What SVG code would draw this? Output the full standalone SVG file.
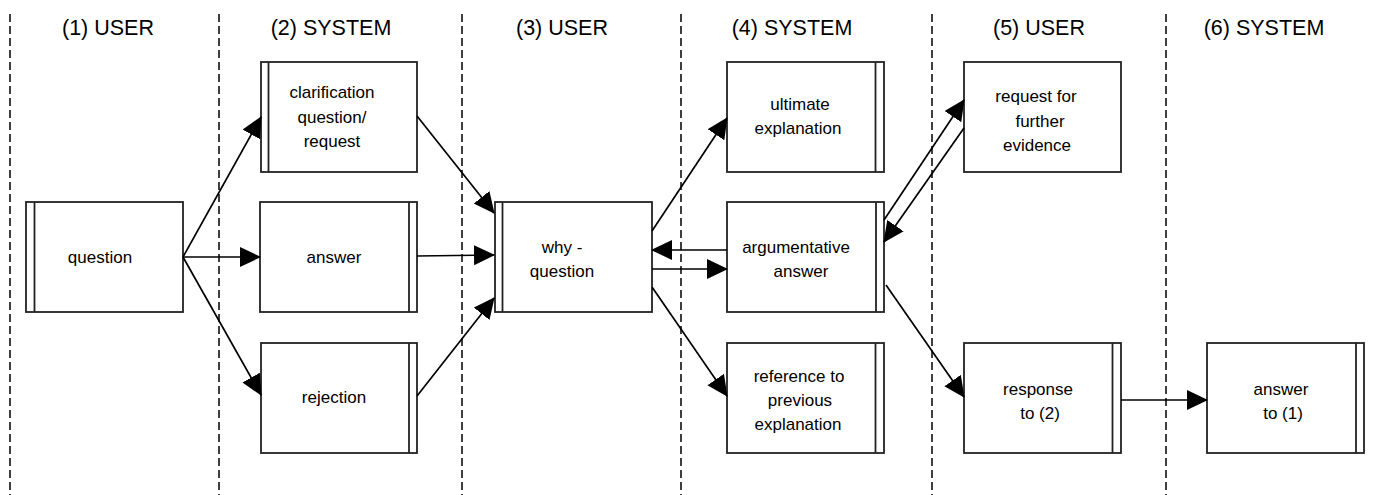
<svg xmlns="http://www.w3.org/2000/svg" width="1378" height="495" viewBox="0 0 1378 495">
<style>
.lane{stroke:#000;stroke-width:1.5;stroke-dasharray:8,4;fill:none}
.hdr{font-family:"Liberation Sans",Arial,sans-serif;font-size:21.5px;fill:#000;text-anchor:middle}
.box{fill:#fff;stroke:#222;stroke-width:1.8}
.bar{stroke:#222;stroke-width:1.8;fill:none}
.lbl{font-family:"Liberation Sans",Arial,sans-serif;font-size:17px;fill:#000;text-anchor:middle}
.con{stroke:#000;stroke-width:1.7;fill:none;marker-end:url(#ah)}
</style>
<defs>
<marker id="ah" markerUnits="userSpaceOnUse" markerWidth="22" markerHeight="22" refX="20" refY="10" orient="auto">
<path d="M0,0 L21,10 L0,20 z" fill="#000"/>
</marker>
</defs>
<g id="lanes">
<line class="lane" x1="10" y1="14" x2="10" y2="495"/>
<line class="lane" x1="219" y1="14" x2="219" y2="495"/>
<line class="lane" x1="462" y1="14" x2="462" y2="495"/>
<line class="lane" x1="681" y1="14" x2="681" y2="495"/>
<line class="lane" x1="932" y1="14" x2="932" y2="495"/>
<line class="lane" x1="1166" y1="14" x2="1166" y2="495"/>
</g>
<g id="headers">
<text class="hdr" x="108" y="35">(1) USER</text>
<text class="hdr" x="331" y="35">(2) SYSTEM</text>
<text class="hdr" x="562" y="35">(3) USER</text>
<text class="hdr" x="792" y="35">(4) SYSTEM</text>
<text class="hdr" x="1039" y="35">(5) USER</text>
<text class="hdr" x="1264" y="35">(6) SYSTEM</text>
</g>
<g id="n-question">
<rect class="box" x="26" y="202" width="157" height="110"/>
<line class="bar" x1="34.5" y1="202" x2="34.5" y2="312"/>
<text class="lbl" x="100" y="263">question</text>
</g>
<g id="n-clarification">
<rect class="box" x="261" y="62" width="156" height="110"/>
<line class="bar" x1="268.5" y1="62" x2="268.5" y2="172"/>
<text class="lbl" x="332" y="98">clarification</text>
<text class="lbl" x="332" y="123">question/</text>
<text class="lbl" x="332" y="147">request</text>
</g>
<g id="n-answer">
<rect class="box" x="260" y="202" width="157" height="110"/>
<line class="bar" x1="409" y1="202" x2="409" y2="312"/>
<text class="lbl" x="334" y="263">answer</text>
</g>
<g id="n-rejection">
<rect class="box" x="261" y="343" width="156" height="110"/>
<line class="bar" x1="409" y1="343" x2="409" y2="453"/>
<text class="lbl" x="334" y="403">rejection</text>
</g>
<g id="n-why">
<rect class="box" x="495" y="202" width="157" height="110"/>
<line class="bar" x1="502.5" y1="202" x2="502.5" y2="312"/>
<text class="lbl" x="562" y="253">why -</text>
<text class="lbl" x="562" y="277">question</text>
</g>
<g id="n-ultimate">
<rect class="box" x="727" y="62" width="157" height="110"/>
<line class="bar" x1="875.5" y1="62" x2="875.5" y2="172"/>
<text class="lbl" x="800" y="110">ultimate</text>
<text class="lbl" x="798" y="134">explanation</text>
</g>
<g id="n-argumentative">
<rect class="box" x="727" y="202" width="157" height="110"/>
<line class="bar" x1="876" y1="202" x2="876" y2="312"/>
<text class="lbl" x="796" y="253">argumentative</text>
<text class="lbl" x="801" y="277">answer</text>
</g>
<g id="n-reference">
<rect class="box" x="727" y="343" width="157" height="110"/>
<line class="bar" x1="875.5" y1="343" x2="875.5" y2="453"/>
<text class="lbl" x="799" y="382">reference to</text>
<text class="lbl" x="800" y="406">previous</text>
<text class="lbl" x="798" y="430">explanation</text>
</g>
<g id="n-request">
<rect class="box" x="964" y="62" width="157" height="110"/>
<text class="lbl" x="1036" y="102">request for</text>
<text class="lbl" x="1040" y="127">further</text>
<text class="lbl" x="1037" y="151">evidence</text>
</g>
<g id="n-response">
<rect class="box" x="964" y="343" width="157" height="110"/>
<line class="bar" x1="1112.5" y1="343" x2="1112.5" y2="453"/>
<text class="lbl" x="1038" y="395">response</text>
<text class="lbl" x="1040" y="419">to (2)</text>
</g>
<g id="n-answer1">
<rect class="box" x="1207" y="343" width="157" height="110"/>
<line class="bar" x1="1356" y1="343" x2="1356" y2="453"/>
<text class="lbl" x="1281" y="395">answer</text>
<text class="lbl" x="1283" y="419">to (1)</text>
</g>
<g id="connectors">
<line class="con" x1="183" y1="257" x2="261" y2="117"/>
<line class="con" x1="183" y1="257" x2="260" y2="257"/>
<line class="con" x1="183" y1="257" x2="261" y2="395"/>
<line class="con" x1="417" y1="116" x2="494" y2="213"/>
<line class="con" x1="417" y1="256" x2="494" y2="255"/>
<line class="con" x1="417" y1="396" x2="494" y2="298"/>
<line class="con" x1="652" y1="231" x2="727" y2="118"/>
<line class="con" x1="727" y1="250" x2="652" y2="250"/>
<line class="con" x1="652" y1="269" x2="727" y2="269"/>
<line class="con" x1="652" y1="287" x2="727" y2="396"/>
<line class="con" x1="884" y1="220" x2="964" y2="100"/>
<line class="con" x1="964" y1="128" x2="884" y2="242"/>
<line class="con" x1="886" y1="285" x2="964" y2="397"/>
<line class="con" x1="1121" y1="400" x2="1207" y2="400"/>
</g>
</svg>
